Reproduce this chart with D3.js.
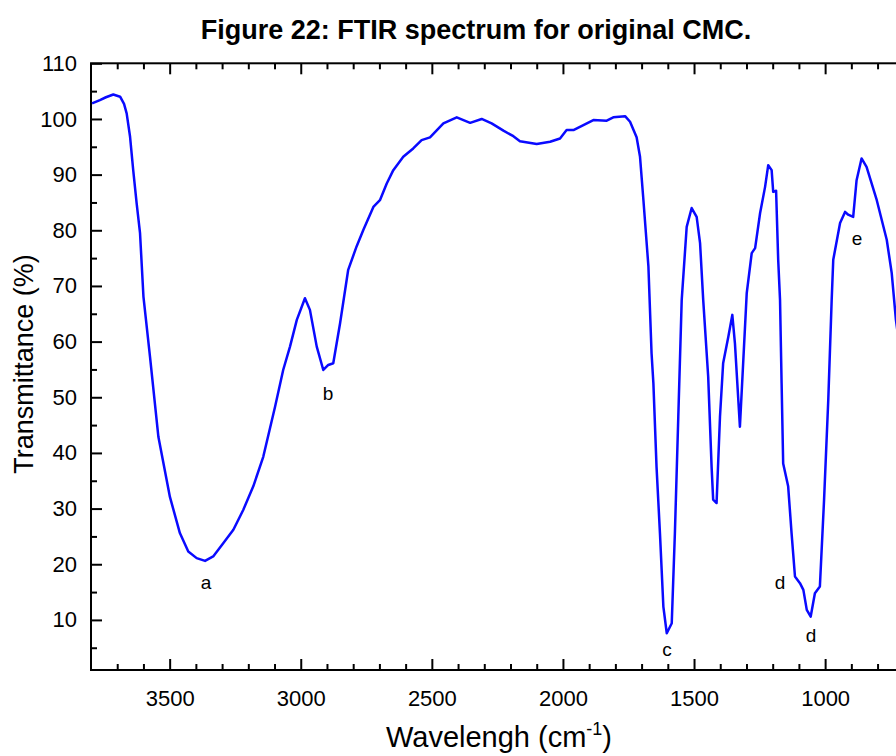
<!DOCTYPE html>
<html>
<head>
<meta charset="utf-8">
<script src="https://cdn.jsdelivr.net/npm/d3@7"></script>
<style>
  body { margin: 0; background: #fff; }
  text { font-family: "Liberation Sans", Arial, sans-serif; fill: #000; }
</style>
</head>
<body>
<svg id="chart"></svg>
<script>
// wavenumber (cm-1) and transmittance (%)
const wavenumbers = [3796, 3766, 3743, 3715, 3689, 3674, 3664, 3651, 3639, 3626, 3613, 3600, 3575, 3543, 3499, 3461, 3429, 3397, 3365, 3334,
  3295, 3257, 3219, 3181, 3143, 3098, 3067, 3041, 3015, 2984, 2965, 2939, 2914, 2895, 2876, 2850, 2819, 2787, 2761, 2723,
  2698, 2672, 2647, 2609, 2571, 2539, 2507, 2456, 2405, 2354, 2310, 2272, 2227, 2189, 2164, 2100, 2049, 2011, 1986, 1960,
  1922, 1884, 1833, 1808, 1763, 1744, 1719, 1706, 1693, 1674, 1662, 1655, 1643, 1630, 1617, 1604, 1585, 1573, 1560, 1547,
  1528, 1509, 1490, 1477, 1465, 1446, 1433, 1427, 1414, 1401, 1389, 1369, 1354, 1344, 1325, 1312, 1299, 1280, 1267, 1248,
  1229, 1217, 1204, 1198, 1187, 1179, 1172, 1166, 1160, 1141, 1128, 1115, 1096, 1083, 1070, 1055, 1039, 1020, 1004, 988,
  975, 969, 943, 924, 912, 893, 880, 861, 842, 803, 765, 746, 730, 710];
const transmittance = [102.8, 103.4, 103.9, 104.4, 104.0, 102.7, 101.0, 96.8, 90.8, 84.9, 79.5, 68.1, 57.3, 42.9, 32.1, 25.6, 22.3, 21.1, 20.6, 21.4,
  23.8, 26.2, 29.8, 34.0, 39.3, 48.3, 54.9, 59.1, 63.9, 67.8, 65.7, 59.1, 54.9, 55.8, 56.1, 63.3, 72.9, 77.1, 80.1, 84.2,
  85.4, 88.4, 90.8, 93.2, 94.7, 96.2, 96.7, 99.2, 100.3, 99.3, 100.0, 99.2, 97.9, 96.9, 96.0, 95.5, 95.9, 96.5, 98.0, 98.0,
  98.9, 99.8, 99.7, 100.3, 100.5, 99.5, 96.7, 93.2, 85.4, 73.5, 57.9, 52.5, 37.5, 25.6, 12.4, 7.6, 9.4, 25.6, 46.5, 67.5,
  80.6, 84.0, 82.4, 77.7, 67.5, 53.7, 37.5, 31.6, 31.0, 46.5, 56.1, 60.9, 64.8, 59.7, 44.7, 56.7, 68.7, 75.9, 76.8, 83.1,
  87.8, 91.7, 90.8, 86.9, 87.1, 74.7, 67.5, 52.5, 38.1, 34.0, 25.6, 17.8, 16.6, 15.4, 11.8, 10.6, 14.8, 16.0, 31.6, 49.5,
  67.5, 74.7, 81.3, 83.3, 82.8, 82.4, 89.0, 92.9, 91.4, 85.4, 78.3, 72.3, 63.9, 57.0];

const peakNames = ['a', 'b', 'c', 'd', 'd', 'e'];
const peakWn = [3361, 2896, 1603, 1172, 1054, 878];
const peakT = [15.6, 49.5, 3.6, 15.6, 6.0, 77.4];

const xMajor = [3500, 3000, 2500, 2000, 1500, 1000];
const yMajor = [10, 20, 30, 40, 50, 60, 70, 80, 90, 100, 110];

const W = 896, H = 756;
const plot = { left: 91, top: 63.3, right: 930, bottom: 670 };

const svg = d3.select('#chart').attr('width', W).attr('height', H);

const x = d3.scaleLinear().domain([3800, 600]).range([plot.left, plot.right]);
const y = d3.scaleLinear().domain([1, 110]).range([plot.bottom, plot.top]);

svg.append('defs').append('clipPath').attr('id', 'clip')
  .append('rect')
  .attr('x', plot.left).attr('y', plot.top)
  .attr('width', plot.right - plot.left).attr('height', plot.bottom - plot.top);

const xMinor = d3.range(3700, 600, -100).filter(v => v % 500 !== 0);
const yMinor = d3.range(5, 110, 10);

function styleAxis(g) {
  g.select('.domain').remove();
  g.selectAll('line').attr('stroke', '#000').attr('stroke-width', 2);
}

// bottom
svg.append('g').attr('transform', `translate(0,${plot.bottom})`)
  .call(d3.axisBottom(x).tickValues(xMinor).tickSize(-6).tickFormat(''))
  .call(styleAxis);
svg.append('g').attr('transform', `translate(0,${plot.bottom})`)
  .call(d3.axisBottom(x).tickValues(xMajor).tickSize(-11).tickPadding(20).tickFormat(d3.format('d')))
  .call(styleAxis)
  .selectAll('text').style('font-size', '22px').attr('dy', '0.71em');

// top
svg.append('g').attr('transform', `translate(0,${plot.top})`)
  .call(d3.axisTop(x).tickValues(xMinor).tickSize(-6).tickFormat(''))
  .call(styleAxis);
svg.append('g').attr('transform', `translate(0,${plot.top})`)
  .call(d3.axisTop(x).tickValues(xMajor).tickSize(-11).tickFormat(''))
  .call(styleAxis);

// left
svg.append('g').attr('transform', `translate(${plot.left},0)`)
  .call(d3.axisLeft(y).tickValues(yMinor).tickSize(-6).tickFormat(''))
  .call(styleAxis);
svg.append('g').attr('transform', `translate(${plot.left},0)`)
  .call(d3.axisLeft(y).tickValues(yMajor).tickSize(-11).tickPadding(14).tickFormat(d3.format('d')))
  .call(styleAxis)
  .selectAll('text').style('font-size', '22px');

// frame
svg.append('rect')
  .attr('x', plot.left).attr('y', plot.top)
  .attr('width', plot.right - plot.left).attr('height', plot.bottom - plot.top)
  .attr('fill', 'none').attr('stroke', '#000').attr('stroke-width', 2);

// spectrum
const line = d3.line()
  .x((d, i) => x(wavenumbers[i]))
  .y(d => y(d));

svg.append('path')
  .datum(transmittance)
  .attr('clip-path', 'url(#clip)')
  .attr('fill', 'none')
  .attr('stroke', '#0a0aff')
  .attr('stroke-width', 2.5)
  .attr('stroke-linejoin', 'round')
  .attr('d', line);

// peak letters
svg.selectAll('.peak')
  .data(peakNames)
  .enter().append('text')
  .attr('class', 'peak')
  .attr('x', (d, i) => x(peakWn[i]))
  .attr('y', (d, i) => y(peakT[i]))
  .attr('text-anchor', 'middle')
  .style('font-size', '19px')
  .text(d => d);

// titles
svg.append('text')
  .attr('x', 476).attr('y', 39)
  .attr('text-anchor', 'middle')
  .style('font-size', '27px').style('font-weight', 'bold')
  .text('Figure 22: FTIR spectrum for original CMC.');

const xl = svg.append('text')
  .attr('x', 499).attr('y', 747)
  .attr('text-anchor', 'middle')
  .style('font-size', '29px');
xl.append('tspan').text('Wavelengh (cm');
xl.append('tspan').attr('dy', -12).style('font-size', '18px').text('-1');
xl.append('tspan').attr('dy', 12).text(')');

svg.append('text')
  .attr('transform', 'translate(33,364) rotate(-90)')
  .attr('text-anchor', 'middle')
  .style('font-size', '27px')
  .text('Transmittance (%)');
</script>
</body>
</html>
